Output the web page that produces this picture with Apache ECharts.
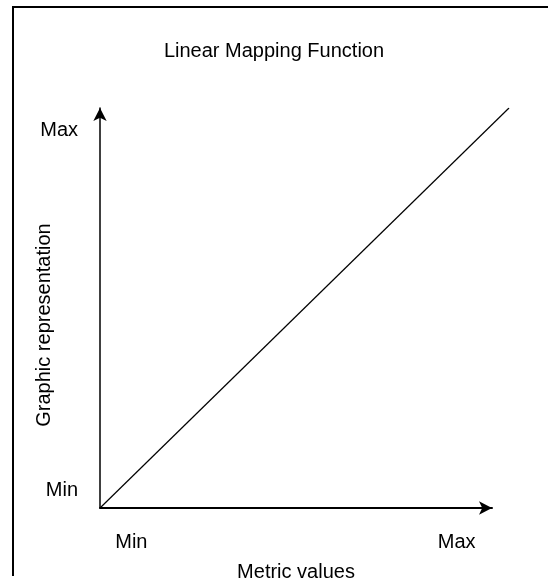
<!DOCTYPE html>
<html lang="en">
<head>
    <meta charset="UTF-8">
    <title>Linear Mapping Function</title>
    <script src="https://cdn.jsdelivr.net/npm/echarts@6.0.0/dist/echarts.min.js"></script>
</head>
<body style="margin:0;background:#fff;">
    <div id="main" style="width:548px;height:583px;"></div>
    <script>
        // mapping line: metric value -> graphic value (drawn on its own, slightly wider grid)
        var lineX = [0, 100];
        var lineY = [0, 100];
        // where the Min / Max labels sit on each axis
        var xTickValues = [8, 91];
        var xTickLabels = ['Min', 'Max'];
        var yTickValues = [4.5, 94.5];
        var yTickLabels = ['Min', 'Max'];

        var font = '"Liberation Sans", Arial, sans-serif';

        function labelFor(values, labels) {
            return function (v) {
                var i = values.indexOf(v);
                return i < 0 ? '' : labels[i];
            };
        }

        var myChart = echarts.init(document.getElementById('main'));
        var option = {
            animation: false,
            title: {
                text: 'Linear Mapping Function',
                left: 'center',
                top: 36,
                textStyle: { fontFamily: font, fontSize: 20, fontWeight: 'normal', color: '#000' }
            },
            grid: [
                { left: 100, right: 56, top: 108, bottom: 75, outerBoundsMode: 'none' },
                { left: 100, right: 39, top: 108, bottom: 75, outerBoundsMode: 'none' }
            ],
            xAxis: [{
                type: 'value',
                gridIndex: 0,
                min: 0,
                max: 100,
                name: 'Metric values',
                nameLocation: 'middle',
                nameGap: 54,
                nameMoveOverlap: false,
                nameTextStyle: { fontFamily: font, fontSize: 20, color: '#000' },
                axisLine: {
                    lineStyle: { color: '#000', width: 2 },
                    symbol: ['none', 'arrow'],
                    symbolSize: [10, 13]
                },
                axisTick: { show: false },
                splitLine: { show: false },
                axisLabel: {
                    customValues: xTickValues,
                    formatter: labelFor(xTickValues, xTickLabels),
                    margin: 24,
                    fontFamily: font, fontSize: 20, color: '#000'
                }
            }, {
                type: 'value',
                gridIndex: 1,
                min: 0,
                max: 100,
                show: false
            }],
            yAxis: [{
                type: 'value',
                gridIndex: 0,
                min: 0,
                max: 100,
                name: 'Graphic representation',
                nameLocation: 'middle',
                nameRotate: 90,
                nameGap: 46,
                nameMoveOverlap: false,
                nameTextStyle: { fontFamily: font, fontSize: 20, color: '#000', padding: [0, 34, 0, 0] },
                axisLine: {
                    lineStyle: { color: '#000', width: 1.5 },
                    symbol: ['none', 'arrow'],
                    symbolSize: [10, 13]
                },
                axisTick: { show: false },
                splitLine: { show: false },
                axisLabel: {
                    customValues: yTickValues,
                    formatter: labelFor(yTickValues, yTickLabels),
                    margin: 22,
                    fontFamily: font, fontSize: 20, color: '#000'
                }
            }, {
                type: 'value',
                gridIndex: 1,
                min: 0,
                max: 100,
                show: false
            }],
            graphic: [{
                type: 'polyline',
                shape: { points: [[13, 576], [13, 7], [548, 7]] },
                style: { stroke: '#000', lineWidth: 2, fill: null },
                silent: true
            }],
            series: [{
                type: 'line',
                xAxisIndex: 1,
                yAxisIndex: 1,
                data: lineX.map(function (x, i) { return [x, lineY[i]]; }),
                showSymbol: false,
                lineStyle: { color: '#000', width: 1.2 }
            }]
        };
        myChart.setOption(option);
    </script>
</body>
</html>
